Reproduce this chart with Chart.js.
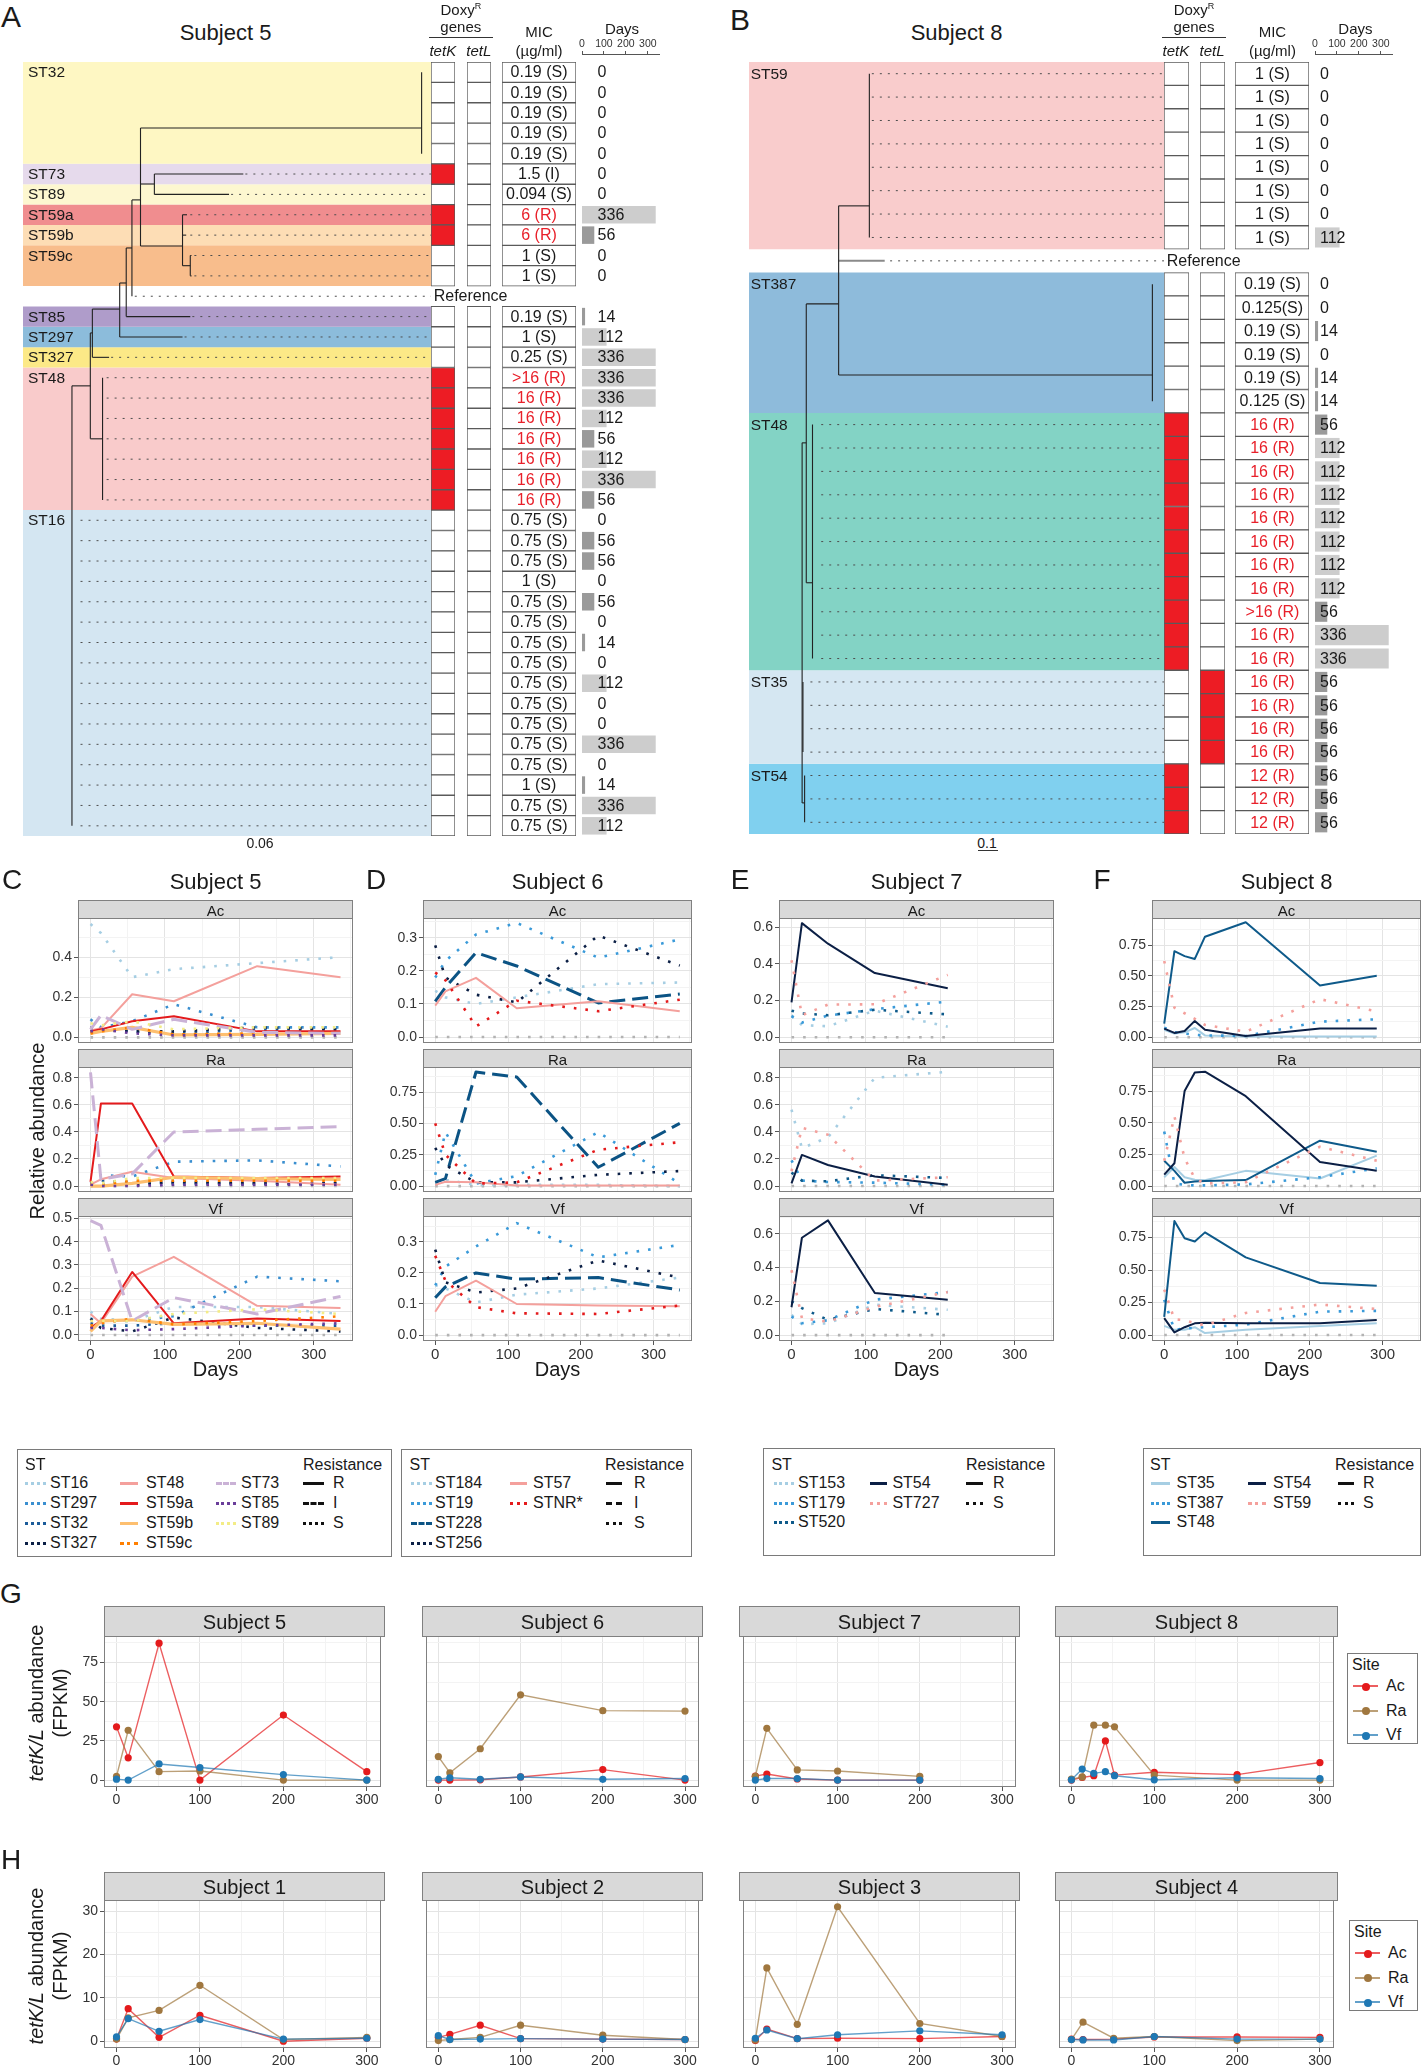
<!DOCTYPE html>
<html><head><meta charset="utf-8"><title>Figure</title>
<script src="https://cdn.jsdelivr.net/npm/chart.js@4.4.1/dist/chart.umd.min.js"></script>
<style>
html,body{margin:0;padding:0;background:#fff;}
#root{position:relative;width:1422px;height:2070px;overflow:hidden;background:#fff;font-family:'Liberation Sans',Arial,Helvetica,sans-serif;color:#1a1a1a;}
#root canvas{position:absolute;}
.t{position:absolute;white-space:nowrap;line-height:1;z-index:5;}
</style></head><body><div id="root"></div>
<script>
/* ===================== DATA ===================== */
/* Panel A : Subject 5 isolates */
const A_rows=['ST32','ST32','ST32','ST32','ST32','ST73','ST89','ST59a','ST59b','ST59c','ST59c','Reference',
 'ST85','ST297','ST327','ST48','ST48','ST48','ST48','ST48','ST48','ST48',
 'ST16','ST16','ST16','ST16','ST16','ST16','ST16','ST16','ST16','ST16','ST16','ST16','ST16','ST16','ST16','ST16'];
const A_tetK=[0,0,0,0,0,1,0,1,1,0,0,null, 0,0,0,1,1,1,1,1,1,1, 0,0,0,0,0,0,0,0,0,0,0,0,0,0,0,0];
const A_tetL=[0,0,0,0,0,0,0,0,0,0,0,null, 0,0,0,0,0,0,0,0,0,0, 0,0,0,0,0,0,0,0,0,0,0,0,0,0,0,0];
const A_mic=['0.19 (S)','0.19 (S)','0.19 (S)','0.19 (S)','0.19 (S)','1.5 (I)','0.094 (S)','6 (R)','6 (R)','1 (S)','1 (S)',null,
 '0.19 (S)','1 (S)','0.25 (S)','>16 (R)','16 (R)','16 (R)','16 (R)','16 (R)','16 (R)','16 (R)',
 '0.75 (S)','0.75 (S)','0.75 (S)','1 (S)','0.75 (S)','0.75 (S)','0.75 (S)','0.75 (S)','0.75 (S)','0.75 (S)','0.75 (S)','0.75 (S)','0.75 (S)','1 (S)','0.75 (S)','0.75 (S)'];
const A_days=[0,0,0,0,0,0,0,336,56,0,0,null, 14,112,336,336,336,112,56,112,336,56, 0,56,56,0,56,0,14,0,112,0,0,336,0,14,336,112];
/* tree: horizontal [x0,x1,row], vertical [x,row0,row1], leaves [xStart,row] (x = branch units 0-100) */
const A_treeH=[[28.8,97.7,2.74],[28.8,32.2,5.49],[32.2,54.0,5],[32.2,50.5,6],[28.8,39.1,8.53],[39.1,40.2,7],[39.1,40.0,8],[39.1,41.0,9.5],[41.0,41.3,9],[41.0,41.3,10],
 [26.7,28.8,6.27],[25.3,26.7,8.63],[25.3,41.0,12],[23.7,25.3,10.35],[23.7,39.1,13],[17.0,23.7,11.63],[17.0,21.1,14],[16.5,17.0,12.8],[16.5,19.5,18],[12.0,16.5,15.4]];
const A_treeV=[[97.7,0,4],[28.8,2.74,8.53],[32.2,5,6],[39.1,7,9.5],[41.0,9,10],[26.7,6.27,11],[25.3,8.63,12],[23.7,10.35,13],[17.0,11.63,14],[16.5,12.8,18],[19.5,15,21],[12.0,15.4,37]];
const A_leaves=[[54.5,5],[51,6],[41,7],[41,8],[42,9],[42,10],[27.4,11],[41.5,12],[39.6,13],[21.6,14],
 [20.5,15],[20.5,16],[20.5,17],[20.5,18],[20.5,19],[20.5,20],[20.5,21],
 [14.1,22],[14.1,23],[14.1,24],[14.1,25],[14.1,26],[14.1,27],[14.1,28],[14.1,29],[14.1,30],[14.1,31],[14.1,32],[14.1,33],[14.1,34],[14.1,35],[14.1,36],[14.1,37]];

/* Panel B : Subject 8 isolates */
const B_rows=['ST59','ST59','ST59','ST59','ST59','ST59','ST59','ST59','Reference',
 'ST387','ST387','ST387','ST387','ST387','ST387',
 'ST48','ST48','ST48','ST48','ST48','ST48','ST48','ST48','ST48','ST48','ST48',
 'ST35','ST35','ST35','ST35','ST54','ST54','ST54'];
const B_tetK=[0,0,0,0,0,0,0,0,null,0,0,0,0,0,0,1,1,1,1,1,1,1,1,1,1,1,0,0,0,0,1,1,1];
const B_tetL=[0,0,0,0,0,0,0,0,null,0,0,0,0,0,0,0,0,0,0,0,0,0,0,0,0,0,1,1,1,1,0,0,0];
const B_mic=['1 (S)','1 (S)','1 (S)','1 (S)','1 (S)','1 (S)','1 (S)','1 (S)',null,
 '0.19 (S)','0.125(S)','0.19 (S)','0.19 (S)','0.19 (S)','0.125 (S)',
 '16 (R)','16 (R)','16 (R)','16 (R)','16 (R)','16 (R)','16 (R)','16 (R)','>16 (R)','16 (R)','16 (R)',
 '16 (R)','16 (R)','16 (R)','16 (R)','12 (R)','12 (R)','12 (R)'];
const B_days=[0,0,0,0,0,0,0,112,null,0,0,14,0,14,14,56,112,112,112,112,112,112,112,56,336,336,56,56,56,56,56,56,56];
const B_treeH=[[21.6,29.0,5.65],[21.6,97.2,12.88],[13.8,21.6,9.84],[13.8,15.3,21.76],[12.8,13.8,15.78],[12.8,13.0,27.5],[12.8,13.4,31.17]];
const B_treeV=[[29.0,0,7],[21.6,5.65,12.88],[97.2,9,14],[13.8,9.84,21.76],[15.3,15,25],[12.8,15.78,31.17],[13.0,26,29],[13.4,30,32]];
const B_refStem=[[21.6,32.7,8]];
const B_leaves=[[29.6,0],[29.6,1],[29.6,2],[29.6,3],[29.6,4],[29.6,5],[29.6,6],[29.6,7],[34,8],
 [17.4,15],[17.4,16],[17.4,17],[17.4,18],[17.4,19],[17.4,20],[17.4,21],[17.4,22],[17.4,23],[17.4,24],[17.4,25],
 [14.8,26],[14.8,27],[14.8,28],[14.8,29],[14.8,30],[14.8,31],[14.8,32]];

/* Panels C-F : relative abundance per site */
const S5_days=[0,14,56,112,224,336];
const S5_st=['ST16','ST297','ST32','ST327','ST48','ST59a','ST59b','ST59c','ST73','ST85','ST89'];
const S5_Ac=[[0.565,0.52,0.30,0.34,0.37,0.40],[0.09,0.05,0.08,0.165,0.05,0.05],[0.03,0.04,0.03,0.02,0.04,0.04],[0.05,0.04,0.03,0.03,0.05,0.04],
 [0.035,0.045,0.215,0.18,0.355,0.30],[0.03,0.04,0.08,0.105,0.03,0.03],[0.02,0.03,0.05,0.012,0.015,0.02],[0.02,0.03,0.05,0.015,0.02,0.02],
 [0.04,0.11,0.04,0.09,0.025,0.02],[0.03,0.04,0.02,0.01,0.01,0.01],[0.07,0.06,0.08,0.04,0.05,0.05]];
const S5_Ra=[[0.03,0.02,0.03,0.05,0.05,0.05],[0.02,0.08,0.07,0.18,0.19,0.145],[0.02,0.04,0.03,0.02,0.02,0.02],[0.02,0.01,0.01,0.03,0.02,0.02],
 [0.01,0.05,0.105,0.06,0.04,0.01],[0.03,0.61,0.61,0.07,0.06,0.07],[0.0,0.0,0.02,0.065,0.055,0.05],[0.01,0.01,0.04,0.04,0.04,0.04],
 [0.84,0.05,0.09,0.40,0.42,0.44],[0.01,0.0,0.0,0.01,0.01,0.01],[0.03,0.02,0.06,0.06,0.06,0.06]];
const S5_Vf=[[0.10,0.07,0.06,0.12,0.12,0.09],[0.07,0.06,0.06,0.08,0.25,0.23],[0.05,0.04,0.04,0.05,0.04,0.04],[0.07,0.03,0.015,0.075,0.03,0.015],
 [0.09,0.05,0.25,0.335,0.125,0.115],[0.03,0.06,0.27,0.05,0.07,0.06],[0.015,0.06,0.065,0.045,0.05,0.025],[0.04,0.05,0.07,0.045,0.06,0.08],
 [0.49,0.47,0.06,0.16,0.09,0.165],[0.03,0.03,0.02,0.025,0.04,0.05],[0.06,0.06,0.06,0.09,0.11,0.09]];
const S5_zero=[0,0,0,0,0,0];

const S6_days=[0,14,56,112,224,336];
const S6_st=['ST184','ST19','ST228','ST256','ST57','STNR*'];
const S6_Ac=[[0.14,0.12,0.10,0.12,0.16,0.165],[0.18,0.23,0.31,0.345,0.24,0.295],[0.108,0.15,0.255,0.215,0.103,0.13],[0.277,0.18,0.128,0.105,0.307,0.216],[0.095,0.138,0.179,0.087,0.108,0.078],[0.195,0.172,0.032,0.11,0.078,0.113]];
const S6_Ra=[[0.02,0.05,0.01,0.01,0.01,0.0],[0.09,0.43,0.02,0.08,0.43,0.02],[0.03,0.06,0.91,0.87,0.15,0.5],[0.305,0.167,0.03,0.03,0.09,0.12],[0.01,0.035,0.03,0.005,0.005,0.005],[0.5,0.25,0.02,0.03,0.29,0.35]];
const S6_Vf=[[0.16,0.15,0.105,0.13,0.15,0.185],[0.16,0.22,0.285,0.36,0.25,0.29],[0.12,0.155,0.2,0.18,0.185,0.145],[0.275,0.17,0.137,0.15,0.24,0.185],[0.075,0.125,0.175,0.10,0.095,0.093],[0.255,0.175,0.09,0.07,0.068,0.095]];
const S6_zero=[0,0,0,0,0,0];

const S7_days=[0,14,49,112,210];
const S7_st=['ST153','ST179','ST520','ST54','ST727'];
const S7_Ac=[[0.12,0.067,0.06,0.145,0.058],[0.115,0.08,0.118,0.153,0.195],[0.145,0.13,0.12,0.15,0.125],[0.19,0.622,0.51,0.35,0.267],[0.42,0.12,0.178,0.18,0.34]];
const S7_Ra=[[0.565,0.28,0.36,0.80,0.845],[0.19,0.04,0.03,0.025,0.01],[0.1,0.04,0.035,0.08,0.06],[0.02,0.23,0.156,0.07,0.01],[0.11,0.43,0.38,0.04,0.065]];
const S7_Vf=[[0.12,0.065,0.07,0.18,0.15],[0.11,0.07,0.088,0.21,0.255],[0.2,0.16,0.09,0.155,0.12],[0.165,0.577,0.68,0.25,0.21],[0.385,0.1,0.08,0.167,0.255]];
const S7_zero=[0,0,0,0,0];

const S8_days=[0,14,28,42,56,112,214,292];
const S8_st=['ST35','ST387','ST48','ST54','ST59'];
const S8_Ac=[[0.06,0.03,0.04,0.075,0.015,0.005,0.005,0.005],[0.078,0.04,0.03,0.02,0.015,0.01,0.127,0.146],[0.11,0.70,0.66,0.637,0.818,0.935,0.42,0.50],[0.07,0.035,0.05,0.133,0.06,0.01,0.07,0.07],[0.62,0.24,0.195,0.15,0.10,0.045,0.31,0.21]];
const S8_Ra=[[0.07,0.15,0.07,0.05,0.045,0.12,0.06,0.24],[0.43,0.02,0.01,0.005,0.005,0.013,0.07,0.14],[0.2,0.12,0.026,0.035,0.04,0.047,0.358,0.27],[0.09,0.18,0.75,0.897,0.903,0.71,0.19,0.12],[0.2,0.55,0.22,0.06,0.02,0.03,0.31,0.2]];
const S8_Vf=[[0.07,0.04,0.04,0.06,0.015,0.04,0.07,0.09],[0.27,0.04,0.05,0.056,0.06,0.08,0.18,0.186],[0.14,0.878,0.745,0.72,0.79,0.598,0.40,0.38],[0.13,0.02,0.06,0.09,0.095,0.09,0.09,0.115],[0.35,0.12,0.115,0.09,0.075,0.17,0.235,0.2]];
const S8_zero=[0,0,0,0,0,0,0,0];

/* Panels G-H : tetK/L abundance (FPKM) */
const SITES=['Ac','Ra','Vf'];
const G_subj=['Subject 5','Subject 6','Subject 7','Subject 8'];
const G_days=[[0,14,51,100,200,300],[0,14,51,100,200,300],[0,14,51,100,200],[0,13,27,41,52,100,200,300]];
const G_Ac=[[34,14.2,87.3,0,41.5,5.4],[0,0,0.2,2,6.7,0],[2.5,3.9,0.7,0,0],[0,1.7,2.8,25,3.2,5,3.5,11.2]];
const G_Ra=[[2.4,31.8,5.4,5.8,0,0],[15,4.7,20,54.4,44.3,44],[2.4,33,6.5,5.8,2.4],[0.6,2,35,35,34,3.2,0,0]];
const G_Vf=[[0.6,0,10.3,8,3.5,0],[0.5,1.5,0.5,2,0.5,1],[0,1,1,0,0],[0.2,7,4.3,5.4,2.8,0.2,1.5,1]];
const H_subj=['Subject 1','Subject 2','Subject 3','Subject 4'];
const H_days=[[0,14,51,100,200,300],[0,14,51,100,200,300],[0,14,51,100,200,300],[0,14,51,100,200,300]];
const H_Ac=[[0.5,7.5,0.9,6,0,0.7],[0.9,1.6,3.7,0.6,0.5,0.4],[0.15,2.8,0.6,0.7,0.6,1.1],[0.5,0.4,0.5,1,1,0.9]];
const H_Ra=[[0.5,5.4,7.1,12.9,0.4,0.9],[0.15,0.4,0.9,3.7,1.4,0.4],[0.3,16.9,3.9,31,4.1,1.1],[0.4,4.4,0.7,1.1,0.15,0.5]];
const H_Vf=[[1,5.2,2.3,5,0.5,0.7],[1.3,0.4,0.5,0.6,0.5,0.4],[0.7,2.6,0.6,1.5,2.4,1.5],[0.4,0.3,0.3,1.1,0.5,0.5]];

/* ===================== STYLES ===================== */
const A_bandColor={ST32:'#FEF7C3',ST73:'#E6DAEC',ST89:'#FDF7D0',ST59a:'#F08D8F',ST59b:'#FDDDB5',ST59c:'#F8BD8C',ST85:'#AF9CCA',ST297:'#8CBCDB',ST327:'#FCE987',ST48:'#F9CBCB',ST16:'#D4E6F2'};
const B_bandColor={ST59:'#F9CCCC',ST387:'#8EBBDB',ST48:'#83D3C5',ST35:'#D5E7F2',ST54:'#80D0EF'};
const S5_color=['#A6CEE3','#3A8FD0','#1C5C9A','#0B1F45','#F4A09C','#E41A1C','#FDBF6F','#FF7F00','#CAB2D6','#6A3D9A','#F3EC86'];
const S5_kind=['dot','dot','dot','dot','solid','solid','thick','dot','dash','dot','dot'];
const S6_color=['#A6CEE3','#3A9AD9','#0B5384','#0B1F45','#F4A09C','#E41A1C'];
const S6_kind=['dot','dot','dash','dot','solid','dot'];
const S7_color=['#A6CEE3','#3A9AD9','#0E5A8A','#0B1F45','#F4A09C'];
const S7_kind=['dot','dot','dot','solid','dot'];
const S8_color=['#A6CEE3','#3A9AD9','#0E5A8A','#0B1F45','#F4A09C'];
const S8_kind=['solid','dot','solid','solid','dot'];
const SITE_COLOR=['#E41A1C','#A0773F','#1F78B4'];

/* ===================== HELPERS ===================== */
const FONT="'Liberation Sans', Arial, Helvetica, sans-serif";
Chart.defaults.font.family=FONT; Chart.defaults.color='#333';
Chart.defaults.animation=false; Chart.defaults.responsive=false; Chart.defaults.maintainAspectRatio=false;
Chart.defaults.plugins.legend.display=false; Chart.defaults.plugins.tooltip.enabled=false; Chart.defaults.events=[];
const root=document.getElementById('root');
function addCanvas(l,t,w,h){const c=document.createElement('canvas');w=Math.round(w);h=Math.round(h);c.width=w;c.height=h;c.style.left=l+'px';c.style.top=t+'px';c.style.width=w+'px';c.style.height=h+'px';root.appendChild(c);return c;}
function T(txt,x,y,o){o=o||{};const d=document.createElement('div');d.className='t';
 if(o.html)d.innerHTML=txt;else d.textContent=txt;
 d.style.left=x+'px';d.style.top=y+'px';d.style.fontSize=(o.size||15)+'px';
 if(o.color)d.style.color=o.color; if(o.italic)d.style.fontStyle='italic'; if(o.lh)d.style.lineHeight=o.lh+'px'; if(o.center)d.style.textAlign='center';
 const ax=o.align==='left'?'0%':(o.align==='right'?'-100%':'-50%');
 d.style.transform=o.rot?`translate(-50%,-50%) rotate(${o.rot}deg)`:`translate(${ax},-50%)`;
 root.appendChild(d);return d;}
function Box(l,t,w,h,css){const d=document.createElement('div');d.style.position='absolute';d.style.left=l+'px';d.style.top=t+'px';d.style.width=w+'px';d.style.height=h+'px';d.style.boxSizing='border-box';Object.assign(d.style,css||{});root.appendChild(d);return d;}
function strip(l,t,w,h,label,size){Box(l,t,w,h,{background:'#D9D9D9',border:'1px solid #808080'});T(label,l+w/2,t+h/2,{size:size});}
const framePlugin={id:'frame',afterDraw(ch,a,o){const c=ch.ctx,r=ch.chartArea;c.save();c.strokeStyle=(o&&o.color)||'#808080';c.lineWidth=1;c.strokeRect(r.left+0.5,r.top+0.5,r.right-r.left-1,r.bottom-r.top-1);c.restore();}};

/* ===================== PANELS A / B ===================== */
const DAY_MAX=351;
function dayColor(v){if(v===null||v===0)return 'rgba(0,0,0,0)';return v>=112?'#CDCDCD':'#9A9A9A';}
function cellChart(l,t,w,h,vals,fill){
 new Chart(addCanvas(l,t,w,h),{type:'bar',data:{labels:vals.map((v,i)=>'r'+i),datasets:[{data:vals.map(v=>v===null?null:1),backgroundColor:vals.map(fill),borderColor:'#5a5a5a',borderWidth:1,borderSkipped:false,barPercentage:1,categoryPercentage:1}]},
  options:{indexAxis:'y',layout:{padding:0},scales:{x:{min:0,max:1,display:false},y:{display:false}}}});
}
function drawTree(c){
 const n=c.rows.length,h=Math.round(n*c.rowH);
 // Chart.js draws the first dataset on top: tree lines first, bands last
 const ds=[];
 c.H.forEach(s=>ds.push({data:[{x:s[0],y:s[2]},{x:s[1],y:s[2]}],borderColor:'#222',borderWidth:1.1,pointRadius:0,fill:false}));
 c.V.forEach(s=>ds.push({data:[{x:s[0],y:s[1]},{x:s[0],y:s[2]}],borderColor:'#222',borderWidth:1.1,pointRadius:0,fill:false}));
 (c.gray||[]).forEach(s=>ds.push({data:[{x:s[0],y:s[2]},{x:s[1],y:s[2]}],borderColor:'#8a8a8a',borderWidth:2,pointRadius:0,fill:false}));
 c.leaves.forEach(l=>ds.push({data:[{x:l[0],y:l[1]},{x:100,y:l[1]}],borderColor:'#4d4d4d',borderWidth:1,borderDash:[2,6],pointRadius:0,fill:false}));
 let i=0;
 while(i<n){const st=c.rows[i];let j=i;while(j+1<n&&c.rows[j+1]===st)j++;
  if(c.colors[st])ds.push({data:[{x:0,y:i-0.5},{x:100,y:i-0.5}],fill:{value:j+0.5},backgroundColor:c.colors[st],borderColor:'rgba(0,0,0,0)',borderWidth:0,pointRadius:0});
  i=j+1;}
 new Chart(addCanvas(c.bandL,c.top,c.bandR-c.bandL,h),{type:'line',data:{datasets:ds},options:{layout:{padding:0},
  scales:{x:{type:'linear',min:0,max:100,display:false},y:{type:'linear',min:-0.5,max:n-0.5,reverse:true,display:false}}}});
 cellChart(c.kL,c.top,c.kR-c.kL,h,c.tetK,v=>v?'#ED1C24':'#FFFFFF');
 cellChart(c.lL,c.top,c.lR-c.lL,h,c.tetL,v=>v?'#ED1C24':'#FFFFFF');
 cellChart(c.mL,c.top,c.mR-c.mL,h,c.mic,v=>'#FFFFFF');
 new Chart(addCanvas(c.dL,c.top,77,h),{type:'bar',data:{labels:c.days.map((v,i)=>'r'+i),datasets:[{data:c.days,backgroundColor:c.days.map(dayColor),borderWidth:0,barPercentage:0.86,categoryPercentage:1}]},
  options:{indexAxis:'y',layout:{padding:0},scales:{x:{min:0,max:DAY_MAX,display:false},y:{display:false}}}});
 // days axis (top)
 new Chart(addCanvas(c.dL-10,37,97,40),{type:'line',data:{datasets:[]},options:{layout:{padding:{left:10,right:10,top:0,bottom:0}},
  scales:{x:{type:'linear',position:'top',min:0,max:DAY_MAX,afterBuildTicks:s=>{s.ticks=[0,100,200,300].map(v=>({value:v}));},
    afterFit:s=>{s.height=17;s.paddingLeft=0;s.paddingRight=0;},
    ticks:{font:{size:10.5},color:'#333',padding:1,autoSkip:false,maxRotation:0,minRotation:0},grid:{drawOnChartArea:false,drawTicks:true,tickLength:3,tickColor:'#555'},border:{display:true,color:'#555'}},
   y:{display:false,min:0,max:1}}}});
 // texts
 c.rows.forEach((st,k)=>{const yc=c.top+c.rowH*(k+0.5);
  if(st==='Reference'){T('Reference',c.refX,yc,{align:'left',size:16});return;}
  if(k===0||c.rows[k-1]!==st)T(st,c.labelX,yc,{align:'left',size:15.5});
  if(c.mic[k])T(c.mic[k],(c.mL+c.mR)/2,yc,{size:16,color:c.mic[k].indexOf('(R)')>=0?'#E8202A':'#1a1a1a'});
  if(c.days[k]!==null)T(String(c.days[k]),c.dTextX,yc,{align:'left',size:16});
 });
 T(c.title,c.titleX,33,{size:22});
 T('Doxy<sup style="font-size:9px">R</sup>',(c.kL+c.lR)/2,9,{html:true,size:15});
 T('genes',(c.kL+c.lR)/2,26,{size:15});
 Box(c.kL-2,37,c.lR-c.kL+4,0,{borderTop:'1px solid #333'});
 T('tetK',(c.kL+c.kR)/2,50,{size:15,italic:true});
 T('tetL',(c.lL+c.lR)/2,50,{size:15,italic:true});
 T('MIC',(c.mL+c.mR)/2,31,{size:15});
 T('(\u00b5g/ml)',(c.mL+c.mR)/2,50,{size:15});
 T('Days',c.dL+40,28,{size:15});
}
drawTree({rows:A_rows,tetK:A_tetK,tetL:A_tetL,mic:A_mic,days:A_days,H:A_treeH,V:A_treeV,leaves:A_leaves,colors:A_bandColor,
 top:62,rowH:20.37,bandL:22.5,bandR:430.6,kL:430.6,kR:455,lL:466.6,lR:491,mL:502,mR:576,dL:582,dTextX:597.6,labelX:28,refX:433.7,title:'Subject 5',titleX:225.5});
drawTree({rows:B_rows,tetK:B_tetK,tetL:B_tetL,mic:B_mic,days:B_days,H:B_treeH,V:B_treeV,leaves:B_leaves,gray:B_refStem,colors:B_bandColor,
 top:62,rowH:23.4,bandL:749,bandR:1163.6,kL:1163.6,kR:1188.3,lL:1199.7,lR:1224.4,mL:1235.4,mR:1309.5,dL:1315.4,dTextX:1320,labelX:750.7,refX:1166.8,title:'Subject 8',titleX:956.5});
T('0.06',260,843,{size:14});
T('0.1',987,843,{size:14});
Box(978,850,20,0,{borderTop:'1px solid #333'});

/* ===================== PANELS C-F ===================== */
function seriesDS(days,vals,color,kind){
 const d={data:days.map((x,i)=>({x:x,y:vals[i]})),borderColor:color,pointRadius:0,fill:false,tension:0,borderCapStyle:'butt',borderJoinStyle:'round'};
 if(kind==='dot'){d.borderWidth=2.6;d.borderDash=[2.6,9];}
 else if(kind==='dash'){d.borderWidth=3;d.borderDash=[16,7];}
 else d.borderWidth=(kind==='thick')?3.2:2;
 return d;
}
const GMAJ='#E4E4E4',GMIN='#F3F3F3';
function facet(o){
 const wy=o.showY?o.wy:0,hx=o.showX?o.hx:0,pt=10,pb=o.showX?0:8;
 const cv=addCanvas(o.l-wy,o.t-pt,o.w+wy,o.h+pt+(o.showX?hx:pb));
 const xt=o.xmaj.concat(o.xmin).sort((a,b)=>a-b),yt=o.ymaj.concat(o.ymin).sort((a,b)=>a-b);
 const isX=v=>o.xmaj.some(m=>Math.abs(m-v)<1e-9),isY=v=>o.ymaj.some(m=>Math.abs(m-v)<1e-9);
 new Chart(cv,{type:'line',data:{datasets:o.ds},plugins:[framePlugin],options:{layout:{padding:{top:pt,bottom:pb,left:0,right:0}},
  scales:{
   x:{type:'linear',bounds:'data',min:o.x0,max:o.x1,afterBuildTicks:s=>{s.ticks=xt.map(v=>({value:v}));},
    afterFit:s=>{s.height=hx;s.paddingLeft=0;s.paddingRight=0;},
    ticks:{display:o.showX,autoSkip:false,maxRotation:0,minRotation:0,padding:1,font:{size:o.xf},color:'#333',callback:v=>isX(v)?String(v):''},
    grid:{color:c=>(c.tick&&isX(c.tick.value))?GMAJ:GMIN,lineWidth:1,drawTicks:o.showX,tickLength:4,tickColor:c=>(c.tick&&isX(c.tick.value))?'#555':'rgba(0,0,0,0)'},border:{display:false}},
   y:{type:'linear',bounds:'data',min:o.y0,max:o.y1,afterBuildTicks:s=>{s.ticks=yt.map(v=>({value:v}));},
    afterFit:s=>{s.width=wy;s.paddingTop=0;s.paddingBottom=0;},
    ticks:{display:o.showY,autoSkip:false,padding:2,font:{size:o.yf},color:'#333',callback:v=>isY(v)?Number(v).toFixed(o.dec):''},
    grid:{color:c=>(c.tick&&isY(c.tick.value))?GMAJ:GMIN,lineWidth:1,drawTicks:o.showY,tickLength:4,tickColor:c=>(c.tick&&isY(c.tick.value))?'#555':'rgba(0,0,0,0)'},border:{display:false}}
  },plugins:{frame:{color:'#808080'}}}});
}
const STRIP_TOP=[900,1049,1198],STRIP_H=18,PANEL_H=125;
function subjectPanel(P){
 for(let f=0;f<3;f++){
  const st=STRIP_TOP[f],pt=st+STRIP_H;
  strip(P.x0,st,P.x1-P.x0,STRIP_H+1,SITES[f],15);
  const ds=[seriesDS(P.days,P.zero,'#B3B3B3','dot')];
  P.st.forEach((s,k)=>ds.push(seriesDS(P.days,P.data[f][k],P.color[k],P.kind[k])));
  ds.reverse(); // later ST levels drawn on top, as in the original
  const y=P.yr[f];
  facet({l:P.x0,t:pt,w:P.x1-P.x0,h:PANEL_H,wy:60,hx:26,showX:f===2,showY:true,x0:-16.8,x1:352.8,xmaj:[0,100,200,300],xmin:[50,150,250,350],
   y0:y[0],y1:y[1],ymaj:y[2],ymin:y[3],dec:y[4],xf:15,yf:14,ds:ds});
 }
 T(P.title,(P.x0+P.x1)/2,882,{size:22});
 T('Days',(P.x0+P.x1)/2,1369,{size:20});
 T(P.letter,P.letterX,880,{size:28});
}
const Y_C=[[-0.028,0.595,[0,0.2,0.4],[0.1,0.3,0.5],1],[-0.044,0.88,[0,0.2,0.4,0.6,0.8],[0.1,0.3,0.5,0.7],1],[-0.026,0.51,[0,0.1,0.2,0.3,0.4,0.5],[0.05,0.15,0.25,0.35,0.45],1]];
const Y_D=[[-0.018,0.36,[0,0.1,0.2,0.3],[0.05,0.15,0.25,0.35],1],[-0.047,0.95,[0,0.25,0.5,0.75],[0.125,0.375,0.625,0.875],2],[-0.019,0.383,[0,0.1,0.2,0.3],[0.05,0.15,0.25,0.35],1]];
const Y_E=[[-0.031,0.65,[0,0.2,0.4,0.6],[0.1,0.3,0.5],1],[-0.044,0.88,[0,0.2,0.4,0.6,0.8],[0.1,0.3,0.5,0.7],1],[-0.035,0.706,[0,0.2,0.4,0.6],[0.1,0.3,0.5,0.7],1]];
const Y_F=[[-0.047,0.97,[0,0.25,0.5,0.75],[0.125,0.375,0.625,0.875],2],[-0.047,0.94,[0,0.25,0.5,0.75],[0.125,0.375,0.625,0.875],2],[-0.046,0.916,[0,0.25,0.5,0.75],[0.125,0.375,0.625,0.875],2]];
subjectPanel({x0:78,x1:353,days:S5_days,st:S5_st,color:S5_color,kind:S5_kind,zero:S5_zero,data:[S5_Ac,S5_Ra,S5_Vf],yr:Y_C,title:'Subject 5',letter:'C',letterX:12});
subjectPanel({x0:423,x1:692,days:S6_days,st:S6_st,color:S6_color,kind:S6_kind,zero:S6_zero,data:[S6_Ac,S6_Ra,S6_Vf],yr:Y_D,title:'Subject 6',letter:'D',letterX:376});
subjectPanel({x0:779,x1:1054,days:S7_days,st:S7_st,color:S7_color,kind:S7_kind,zero:S7_zero,data:[S7_Ac,S7_Ra,S7_Vf],yr:Y_E,title:'Subject 7',letter:'E',letterX:740});
subjectPanel({x0:1152,x1:1421,days:S8_days,st:S8_st,color:S8_color,kind:S8_kind,zero:S8_zero,data:[S8_Ac,S8_Ra,S8_Vf],yr:Y_F,title:'Subject 8',letter:'F',letterX:1102});
T('Relative abundance',37,1131,{size:20,rot:-90});

/* legends C-F */
function keyLine(x,y,w,color,kind){Box(x,y-1.5,w,0,{borderTop:'3px '+(kind==='dot'?'dotted':(kind==='dash'?'dashed':'solid'))+' '+color});}
function legendBox(L){
 Box(L.box[0],L.box[1],L.box[2],L.box[3],{border:'1px solid #7a7a7a'});
 T('ST',L.stX,1465,{align:'left',size:16});
 T('Resistance',L.resX,1465,{align:'left',size:16});
 L.cols.forEach(col=>col.items.forEach((k,r)=>{keyLine(col.kx,L.rowY[r],col.kw,L.color[k],L.kind[k]);T(L.st[k],col.lx,L.rowY[r],{align:'left',size:16});}));
 L.res.forEach((r,i)=>{keyLine(L.resKx,L.rowY[i],L.resKw,'#111',r==='R'?'solid':(r==='I'?'dash':'dot'));T(r,L.resLx,L.rowY[i],{align:'left',size:16});});
}
legendBox({box:[17,1449,375,108],stX:25,resX:303,rowY:[1483,1503,1523,1543],st:S5_st,color:S5_color,kind:S5_kind,
 cols:[{kx:25,kw:21,lx:50,items:[0,1,2,3]},{kx:120,kw:18,lx:146,items:[4,5,6,7]},{kx:216,kw:20,lx:241,items:[8,9,10]}],res:['R','I','S'],resKx:303,resKw:21,resLx:333});
legendBox({box:[401,1449,291,108],stX:409.5,resX:605,rowY:[1483,1503,1523,1543],st:S6_st,color:S6_color,kind:S6_kind,
 cols:[{kx:411,kw:21,lx:435,items:[0,1,2,3]},{kx:510,kw:17,lx:533,items:[4,5]}],res:['R','I','S'],resKx:606,resKw:16,resLx:634});
legendBox({box:[763,1448,292,108],stX:771.4,resX:966,rowY:[1483,1503,1522],st:S7_st,color:S7_color,kind:S7_kind,
 cols:[{kx:774,kw:20,lx:798,items:[0,1,2]},{kx:870,kw:17,lx:892.4,items:[3,4]}],res:['R','S'],resKx:966,resKw:17,resLx:993});
legendBox({box:[1143,1448,278,108],stX:1150,resX:1335,rowY:[1483,1503,1522],st:S8_st,color:S8_color,kind:S8_kind,
 cols:[{kx:1151,kw:19,lx:1176.5,items:[0,1,2]},{kx:1248,kw:18,lx:1273,items:[3,4]}],res:['R','S'],resKx:1338,resKw:16,resLx:1363});

/* ===================== PANELS G / H ===================== */
function siteDS(days,vals,color){return {data:days.map((x,i)=>({x:x,y:vals[i]})),borderColor:color+'B3',backgroundColor:color,pointBackgroundColor:color,pointBorderWidth:0,pointRadius:3.6,borderWidth:1.4,fill:false,tension:0};}
const FX=[[104,385],[422,703],[739,1020],[1055,1338]];
function siteRow(P){
 for(let k=0;k<4;k++){
  strip(FX[k][0],P.st,FX[k][1]-FX[k][0],P.sh+1,P.subj[k],20);
  const ds=[siteDS(P.days[k],P.Vf[k],SITE_COLOR[2]),siteDS(P.days[k],P.Ra[k],SITE_COLOR[1]),siteDS(P.days[k],P.Ac[k],SITE_COLOR[0])];
  facet({l:FX[k][0],t:P.st+P.sh,w:FX[k][1]-FX[k][0],h:P.ph,wy:40,hx:24,showX:true,showY:k===0,x0:-15,x1:317,xmaj:[0,100,200,300],xmin:[50,150,250],
   y0:P.y0,y1:P.y1,ymaj:P.ymaj,ymin:P.ymin,dec:0,xf:14,yf:14,ds:ds});
 }
 T(P.letter,11,P.letterY,{size:28});
 T('<i>tetK/L</i> abundance<br>(FPKM)',48,P.st+(P.sh+P.ph)/2+6,{html:true,size:20,rot:-90,lh:24,center:true});
 // site legend
 const L=P.leg;
 Box(L[0],L[1],L[2],L[3],{border:'1px solid #7a7a7a'});
 T('Site',L[0]+5,L[1]+12,{align:'left',size:16});
 SITES.forEach((s,i)=>{const y=L[1]+33+i*24.5;
  Box(L[0]+6,y-1,25,0,{borderTop:'2px solid '+SITE_COLOR[i]+'B3'});
  Box(L[0]+14.5,y-3.5,8,8,{background:SITE_COLOR[i],borderRadius:'50%'});
  T(s,L[0]+39,y,{align:'left',size:16});});
}
siteRow({st:1606,sh:30,ph:151,subj:G_subj,days:G_days,Ac:G_Ac,Ra:G_Ra,Vf:G_Vf,y0:-4.4,y1:91.9,ymaj:[0,25,50,75],ymin:[12.5,37.5,62.5,87.5],letter:'G',letterY:1594,leg:[1347,1653,71,91]});
siteRow({st:1872,sh:28,ph:148,subj:H_subj,days:H_days,Ac:H_Ac,Ra:H_Ra,Vf:H_Vf,y0:-1.55,y1:32.55,ymaj:[0,10,20,30],ymin:[5,15,25],letter:'H',letterY:1860,leg:[1349,1920,69,91]});

/* panel letters A/B */
T('A',11,17,{size:30});
T('B',740,20,{size:30});
</script></body></html>
